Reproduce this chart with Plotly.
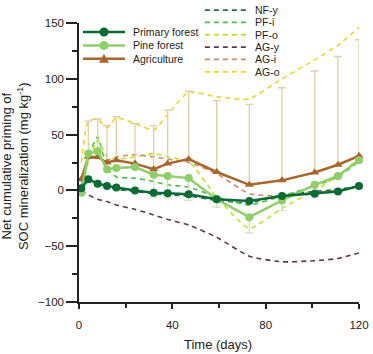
import plotly.graph_objects as go

# sampling days
days = [1, 4, 8, 12, 16, 24, 32, 38, 47, 59, 73, 87, 101, 111, 120]

# mean net cumulative priming (mg kg-1)
primary_forest = [2, 10, 6, 4, 2.5, 0, -2, -2.5, -3.5, -8, -9.5, -5, -3, -1, 4]
pine_forest = [-2, 33, 35, 19, 20, 21, 14, 13, 11, -8, -24, -9, 5, 13, 27]
agriculture = [10, 30, 30, 25, 27, 24, 19, 24, 28, 16.5, 5, 9, 16, 23, 31]

# error bars
agri_err = [0, 32, 34, 33, 39, 36, 39, 48, 61, 64, 72, 83, 91, 97, 104]
pine_err = [0, 0, 0, 0, 0, 0, 20, 20, 20, 7, 14, 9, 4, 3, 3]

# treatment curves (dashed)
nf_y = [0, 8, 5, 3, 1, -1, -3, -4, -5, -9, -11, -4, -1, 1, 4]
pf_i = [0, 30, 48, 20, 12, 11, 8, 5, 3, -6, -13, -5, 4, 12, 26]
pf_o = [-3, 25, 45, 30, 28, 30, 33, 30, 26, -6, -34, -16, 0, 13, 29]
ag_y = [0, -4, -8, -10, -13, -17, -22, -26, -31, -42, -59, -64, -63, -61, -56]
ag_i = [5, 28, 30, 27, 30, 32, 30, 28, 25, 15, -3, -5, -2, 0, 4]
ag_o = [25, 62, 64, 56, 65, 60, 54, 68, 88, 84, 82, 100, 117, 130, 146]

dashed = [
    ("NF-y", nf_y, "#2a6a4c"),
    ("PF-i", pf_i, "#4cbf4c"),
    ("PF-o", pf_o, "#b9e52b"),
    ("AG-y", ag_y, "#5e3b40"),
    ("AG-i", ag_i, "#d0896b"),
    ("AG-o", ag_o, "#f2d22e"),
]
solid = [
    ("Primary forest", "#0b6b35", "circle"),
    ("Pine forest", "#8fce68", "circle"),
    ("Agriculture", "#a8662c", "triangle"),
]

W, H = 373, 354
L, R, T, B = 79, 13.7, 22.5, 51.5
pw, ph = W - L - R, H - T - B


def px(x):
    return (x - L) / pw


def py(y):
    return (H - B - y) / ph


fig = go.Figure()

for name, vals, col in dashed:
    fig.add_trace(go.Scatter(
        x=days, y=vals, name=name, mode="lines", showlegend=False,
        line=dict(color=col, width=1.6, dash="5px,4px", shape="spline", smoothing=0.5),
    ))

fig.add_trace(go.Scatter(
    x=days, y=agriculture, name="Agriculture", mode="lines+markers", showlegend=False,
    line=dict(color="#a8662c", width=2.5),
    marker=dict(symbol="triangle-up", size=8, color="#a8662c"),
    error_y=dict(type="data", array=agri_err, arrayminus=[0] * len(days),
                 symmetric=False, color="#dccfa8", thickness=1.3, width=4),
))
fig.add_trace(go.Scatter(
    x=days, y=pine_forest, name="Pine forest", mode="lines+markers", showlegend=False,
    line=dict(color="#8fce68", width=2.5),
    marker=dict(symbol="circle", size=8, color="#8fce68"),
    error_y=dict(type="data", array=[0] * len(days), arrayminus=pine_err,
                 symmetric=False, color="#cddfc0", thickness=1.2, width=4),
))
fig.add_trace(go.Scatter(
    x=days, y=primary_forest, name="Primary forest", mode="lines+markers", showlegend=False,
    line=dict(color="#0b6b35", width=2.5),
    marker=dict(symbol="circle", size=8, color="#0b6b35"),
))

for tr in fig.data:
    tr.cliponaxis = False

# hand-made legends (plotly's legend rows are too tall for this layout)
shapes, annos = [], []
for i, (name, col, sym) in enumerate(solid):
    yy = py(31.5 + 13.5 * i)
    shapes.append(dict(type="line", xref="paper", yref="paper", x0=px(83), x1=px(125),
                       y0=yy, y1=yy, line=dict(color=col, width=2.5)))
    if sym == "circle":
        shapes.append(dict(type="circle", xref="paper", yref="paper", xsizemode="pixel",
                           ysizemode="pixel", xanchor=px(104), yanchor=yy,
                           x0=-4.5, x1=4.5, y0=-4.5, y1=4.5,
                           fillcolor=col, line=dict(color=col, width=0)))
    else:
        shapes.append(dict(type="path", xref="paper", yref="paper", xsizemode="pixel",
                           ysizemode="pixel", xanchor=px(104), yanchor=yy,
                           path="M -5,-4 L 5,-4 L 0,5 Z",
                           fillcolor=col, line=dict(color=col, width=0)))
    annos.append(dict(x=px(131), y=yy, xref="paper", yref="paper", text=name,
                      showarrow=False, xanchor="left", yanchor="middle",
                      font=dict(size=10.5, color="#222")))

for i, (name, vals, col) in enumerate(dashed):
    yy = py(9.5 + 12.4 * i)
    shapes.append(dict(type="line", xref="paper", yref="paper", x0=px(205), x1=px(247),
                       y0=yy, y1=yy, line=dict(color=col, width=1.8, dash="5px,4px")))
    annos.append(dict(x=px(253), y=yy, xref="paper", yref="paper", text=name,
                      showarrow=False, xanchor="left", yanchor="middle",
                      font=dict(size=10.5, color="#222")))

# axis titles
annos.append(dict(x=px(15), y=py(166), xref="paper", yref="paper", textangle=-90,
                  text="Net cumulative priming of<br>SOC mineralization (mg kg<sup>-1</sup>)",
                  showarrow=False, xanchor="center", yanchor="middle",
                  font=dict(size=13, color="#222")))
annos.append(dict(x=px(218), y=py(345), xref="paper", yref="paper",
                  text="Time (days)", showarrow=False, xanchor="center", yanchor="middle",
                  font=dict(size=13, color="#222")))

fig.update_layout(
    width=W, height=H,
    margin=dict(l=L, r=R, t=T, b=B),
    plot_bgcolor="white", paper_bgcolor="white",
    font=dict(family="Liberation Sans, Arial", size=12, color="#222"),
    showlegend=False,
    shapes=shapes,
    annotations=annos,
    xaxis=dict(
        range=[0, 120], tickvals=[0, 40, 80, 120], automargin=False,
        showline=True, linecolor="#222", linewidth=1.5,
        ticks="outside", ticklen=5, tickwidth=1.5, tickcolor="#222",
        tickfont=dict(size=11.5), ticklabelstandoff=6,
        minor=dict(tickvals=[20, 60, 100], ticks="outside", ticklen=4, tickwidth=1.5, tickcolor="#222"),
        showgrid=False, zeroline=False,
    ),
    yaxis=dict(
        range=[-100, 150], tickvals=[-100, -50, 0, 50, 100, 150], automargin=False,
        showline=True, linecolor="#222", linewidth=1.5,
        ticks="outside", ticklen=11, tickwidth=1.5, tickcolor="#222",
        tickfont=dict(size=11.5),
        minor=dict(tickvals=[-75, -25, 25, 75, 125], ticks="outside", ticklen=5, tickwidth=1.5, tickcolor="#222"),
        showgrid=False, zeroline=False,
    ),
)

# drop the page's default body margin so the figure sits at the window corner
fig.write_html("out.html", config={"displayModeBar": False},
               post_script="document.body.style.margin='0';")
